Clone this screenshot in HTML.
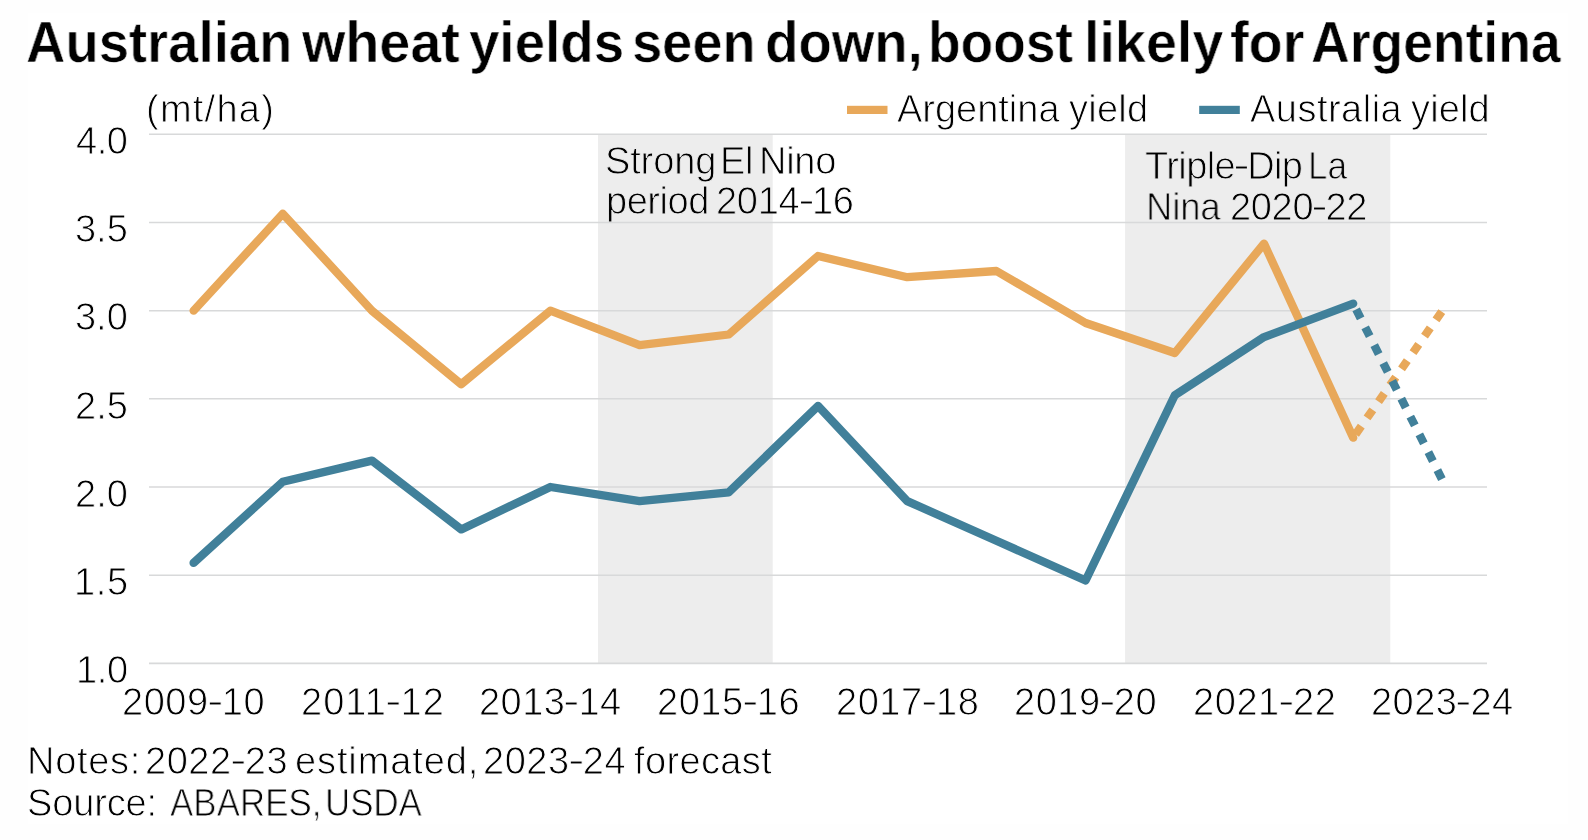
<!DOCTYPE html>
<html><head><meta charset="utf-8"><title>Chart</title>
<style>
html,body{margin:0;padding:0;}
body{width:1588px;height:840px;overflow:hidden;background:#fefefe;position:relative;font-family:"Liberation Sans",sans-serif;color:#000;}
#panel{position:absolute;left:28px;top:13px;width:1540px;height:811px;background:#fff;}
svg{position:absolute;left:0;top:0;}
.t{position:absolute;white-space:nowrap;line-height:1;font-size:36px;transform-origin:0 0;will-change:transform;-webkit-text-stroke:0.9px #fff;}
.t.b{font-size:57.3px;font-weight:bold;-webkit-text-stroke-width:0.6px;}
.t.m{mix-blend-mode:multiply;}
.ln{position:absolute;left:0;top:0;width:0;height:0;font-size:0;}
.h{display:inline-block;transform:translateY(-1.4px) scaleX(1.3);}
</style></head><body>
<div id="panel"></div>
<svg width="1588" height="840" viewBox="0 0 1588 840">
<rect x="598.0" y="134.3" width="174.7" height="529.1" fill="#EDEDED"/>
<rect x="1125.1" y="134.3" width="265.2" height="529.1" fill="#EDEDED"/>
<g stroke="#D8D9DA" stroke-width="1.6"><line x1="149" x2="1487" y1="134.3" y2="134.3"/><line x1="149" x2="1487" y1="222.5" y2="222.5"/><line x1="149" x2="1487" y1="310.7" y2="310.7"/><line x1="149" x2="1487" y1="398.8" y2="398.8"/><line x1="149" x2="1487" y1="487.0" y2="487.0"/><line x1="149" x2="1487" y1="575.2" y2="575.2"/><line x1="149" x2="1487" y1="663.4" y2="663.4"/></g>
<g fill="none" stroke-width="8.3" stroke-linejoin="round" stroke-linecap="round">
<polyline stroke="#E8A85A" points="193.6,310.7 282.8,213.7 372.0,310.7 461.2,384.2 550.4,310.7 639.6,345.1 728.8,334.5 818.0,256.0 907.2,277.2 996.4,271.0 1085.6,323.0 1174.8,353.0 1264.0,243.6 1353.2,437.7"/>
<polyline stroke="#41809A" points="193.6,562.9 282.8,481.7 372.0,460.6 461.2,529.4 550.4,487.0 639.6,501.1 728.8,492.3 818.0,405.9 907.2,501.1 996.4,540.8 1085.6,580.5 1174.8,395.3 1264.0,337.1 1353.2,303.6"/>
</g>
<g fill="none" stroke-width="8.3" stroke-dasharray="10 10" stroke-dashoffset="-1.1">
<polyline stroke="#E8A85A" points="1442.4,310.7 1353.2,437.7"/>
<polyline stroke="#41809A" points="1442.4,480.0 1353.2,303.6"/>
</g>
<rect x="847" y="105.8" width="40.5" height="8.2" fill="#E8A85A"/>
<rect x="1199.2" y="105.8" width="40.6" height="8.2" fill="#41809A"/>
</svg>
<div class="ln" id="title"><span class="t b" style="left:25.91px;top:14.20px;transform:scaleX(0.9504);">Australian</span> <span class="t b" style="left:301.68px;top:14.20px;transform:scaleX(0.972);">wheat</span> <span class="t b" style="left:468.67px;top:14.20px;transform:scaleX(0.9552);">yields</span> <span class="t b" style="left:631.84px;top:14.20px;transform:scaleX(0.947);">seen</span> <span class="t b" style="left:764.67px;top:14.20px;transform:scaleX(0.954);">down,</span> <span class="t b" style="left:927.85px;top:14.20px;transform:scaleX(0.9307);">boost</span> <span class="t b" style="left:1084.29px;top:14.20px;transform:scaleX(0.9719);">likely</span> <span class="t b" style="left:1230.45px;top:14.20px;transform:scaleX(0.975);">for</span> <span class="t b" style="left:1311.31px;top:14.20px;transform:scaleX(0.9337);">Argentina</span></div>
<div class="ln" id="unit"><span class="t" style="left:146.00px;top:90.00px;font-size:38px;letter-spacing:1.25px;">(mt/ha)</span></div>
<div class="ln" id="leg1"><span class="t" style="left:896.77px;top:90.20px;font-size:38px;letter-spacing:-0.02px;">Argentina</span> <span class="t" style="left:1069.00px;top:90.20px;font-size:38px;letter-spacing:0.25px;">yield</span></div>
<div class="ln" id="leg2"><span class="t" style="left:1249.77px;top:90.20px;font-size:38px;letter-spacing:0.48px;">Australia</span> <span class="t" style="left:1411.20px;top:90.20px;font-size:38px;letter-spacing:0.14px;">yield</span></div>
<div class="ln" id="an1a"><span class="t m" style="left:605.05px;top:141.80px;font-size:38px;letter-spacing:-0.14px;">Strong</span> <span class="t m" style="left:719.92px;top:141.80px;font-size:38px;letter-spacing:-0.23px;">El</span> <span class="t m" style="left:758.93px;top:141.80px;font-size:38px;letter-spacing:-0.28px;">Nino</span></div>
<div class="ln" id="an1b"><span class="t m" style="left:605.60px;top:181.50px;font-size:38px;letter-spacing:-0.47px;">period</span> <span class="t m" style="left:715.58px;top:181.50px;font-size:38px;letter-spacing:-0.26px;">2014<span class="h">-</span>16</span></div>
<div class="ln" id="an2a"><span class="t m" style="left:1145.23px;top:147.40px;font-size:38px;letter-spacing:-0.59px;">Triple<span class="h">-</span>Dip</span> <span class="t m" style="left:1308.49px;top:147.40px;font-size:38px;transform:scaleX(0.9216);">La</span></div>
<div class="ln" id="an2b"><span class="t m" style="left:1146.01px;top:187.50px;font-size:38px;transform:scaleX(0.9536);">Nina</span> <span class="t m" style="left:1230.38px;top:187.50px;font-size:38px;letter-spacing:-0.34px;">2020<span class="h">-</span>22</span></div>
<div class="ln" id="y4_0"><span class="t" style="left:76.01px;top:122.00px;font-size:38px;letter-spacing:-0.42px;">4.0</span></div>
<div class="ln" id="y3_5"><span class="t" style="left:75.17px;top:210.18px;font-size:38px;letter-spacing:-0.02px;">3.5</span></div>
<div class="ln" id="y3_0"><span class="t" style="left:75.17px;top:298.37px;font-size:38px;letter-spacing:-0.03px;">3.0</span></div>
<div class="ln" id="y2_5"><span class="t" style="left:74.98px;top:386.55px;font-size:38px;letter-spacing:0.06px;">2.5</span></div>
<div class="ln" id="y2_0"><span class="t" style="left:74.98px;top:474.73px;font-size:38px;letter-spacing:0.01px;">2.0</span></div>
<div class="ln" id="y1_5"><span class="t" style="left:74.00px;top:562.92px;font-size:38px;letter-spacing:0.65px;">1.5</span></div>
<div class="ln" id="y1_0"><span class="t" style="left:75.80px;top:651.10px;font-size:38px;letter-spacing:-0.36px;">1.0</span></div>
<div class="ln" id="x0"><span class="t" style="left:121.78px;top:683.30px;font-size:38px;letter-spacing:0.52px;">2009<span class="h">-</span>10</span></div>
<div class="ln" id="x1"><span class="t" style="left:300.58px;top:683.30px;font-size:38px;letter-spacing:1.03px;">2011<span class="h">-</span>12</span></div>
<div class="ln" id="x2"><span class="t" style="left:479.38px;top:683.30px;font-size:38px;letter-spacing:0.44px;">2013<span class="h">-</span>14</span></div>
<div class="ln" id="x3"><span class="t" style="left:657.18px;top:683.30px;font-size:38px;letter-spacing:0.51px;">2015<span class="h">-</span>16</span></div>
<div class="ln" id="x4"><span class="t" style="left:835.98px;top:683.30px;font-size:38px;letter-spacing:0.55px;">2017<span class="h">-</span>18</span></div>
<div class="ln" id="x5"><span class="t" style="left:1013.78px;top:683.30px;font-size:38px;letter-spacing:0.52px;">2019<span class="h">-</span>20</span></div>
<div class="ln" id="x6"><span class="t" style="left:1192.58px;top:683.30px;font-size:38px;letter-spacing:0.56px;">2021<span class="h">-</span>22</span></div>
<div class="ln" id="x7"><span class="t" style="left:1371.38px;top:683.30px;font-size:38px;letter-spacing:0.44px;">2023<span class="h">-</span>24</span></div>
<div class="ln" id="note"><span class="t" style="left:26.53px;top:741.90px;font-size:38px;letter-spacing:0.7px;">Notes:</span> <span class="t" style="left:144.98px;top:741.90px;font-size:38px;letter-spacing:0.52px;">2022<span class="h">-</span>23</span> <span class="t" style="left:295.08px;top:741.90px;font-size:38px;letter-spacing:0.88px;">estimated,</span> <span class="t" style="left:482.78px;top:741.90px;font-size:38px;letter-spacing:0.52px;">2023<span class="h">-</span>24</span> <span class="t" style="left:634.00px;top:741.90px;font-size:38px;letter-spacing:0.37px;">forecast</span></div>
<div class="ln" id="src"><span class="t" style="left:27.45px;top:784.20px;font-size:38px;letter-spacing:-0.13px;">Source:</span> <span class="t" style="left:169.60px;top:784.20px;font-size:38px;transform:scaleX(0.9197);">ABARES,</span> <span class="t" style="left:324.90px;top:784.20px;font-size:38px;transform:scaleX(0.9171);">USDA</span></div>


</body></html>
